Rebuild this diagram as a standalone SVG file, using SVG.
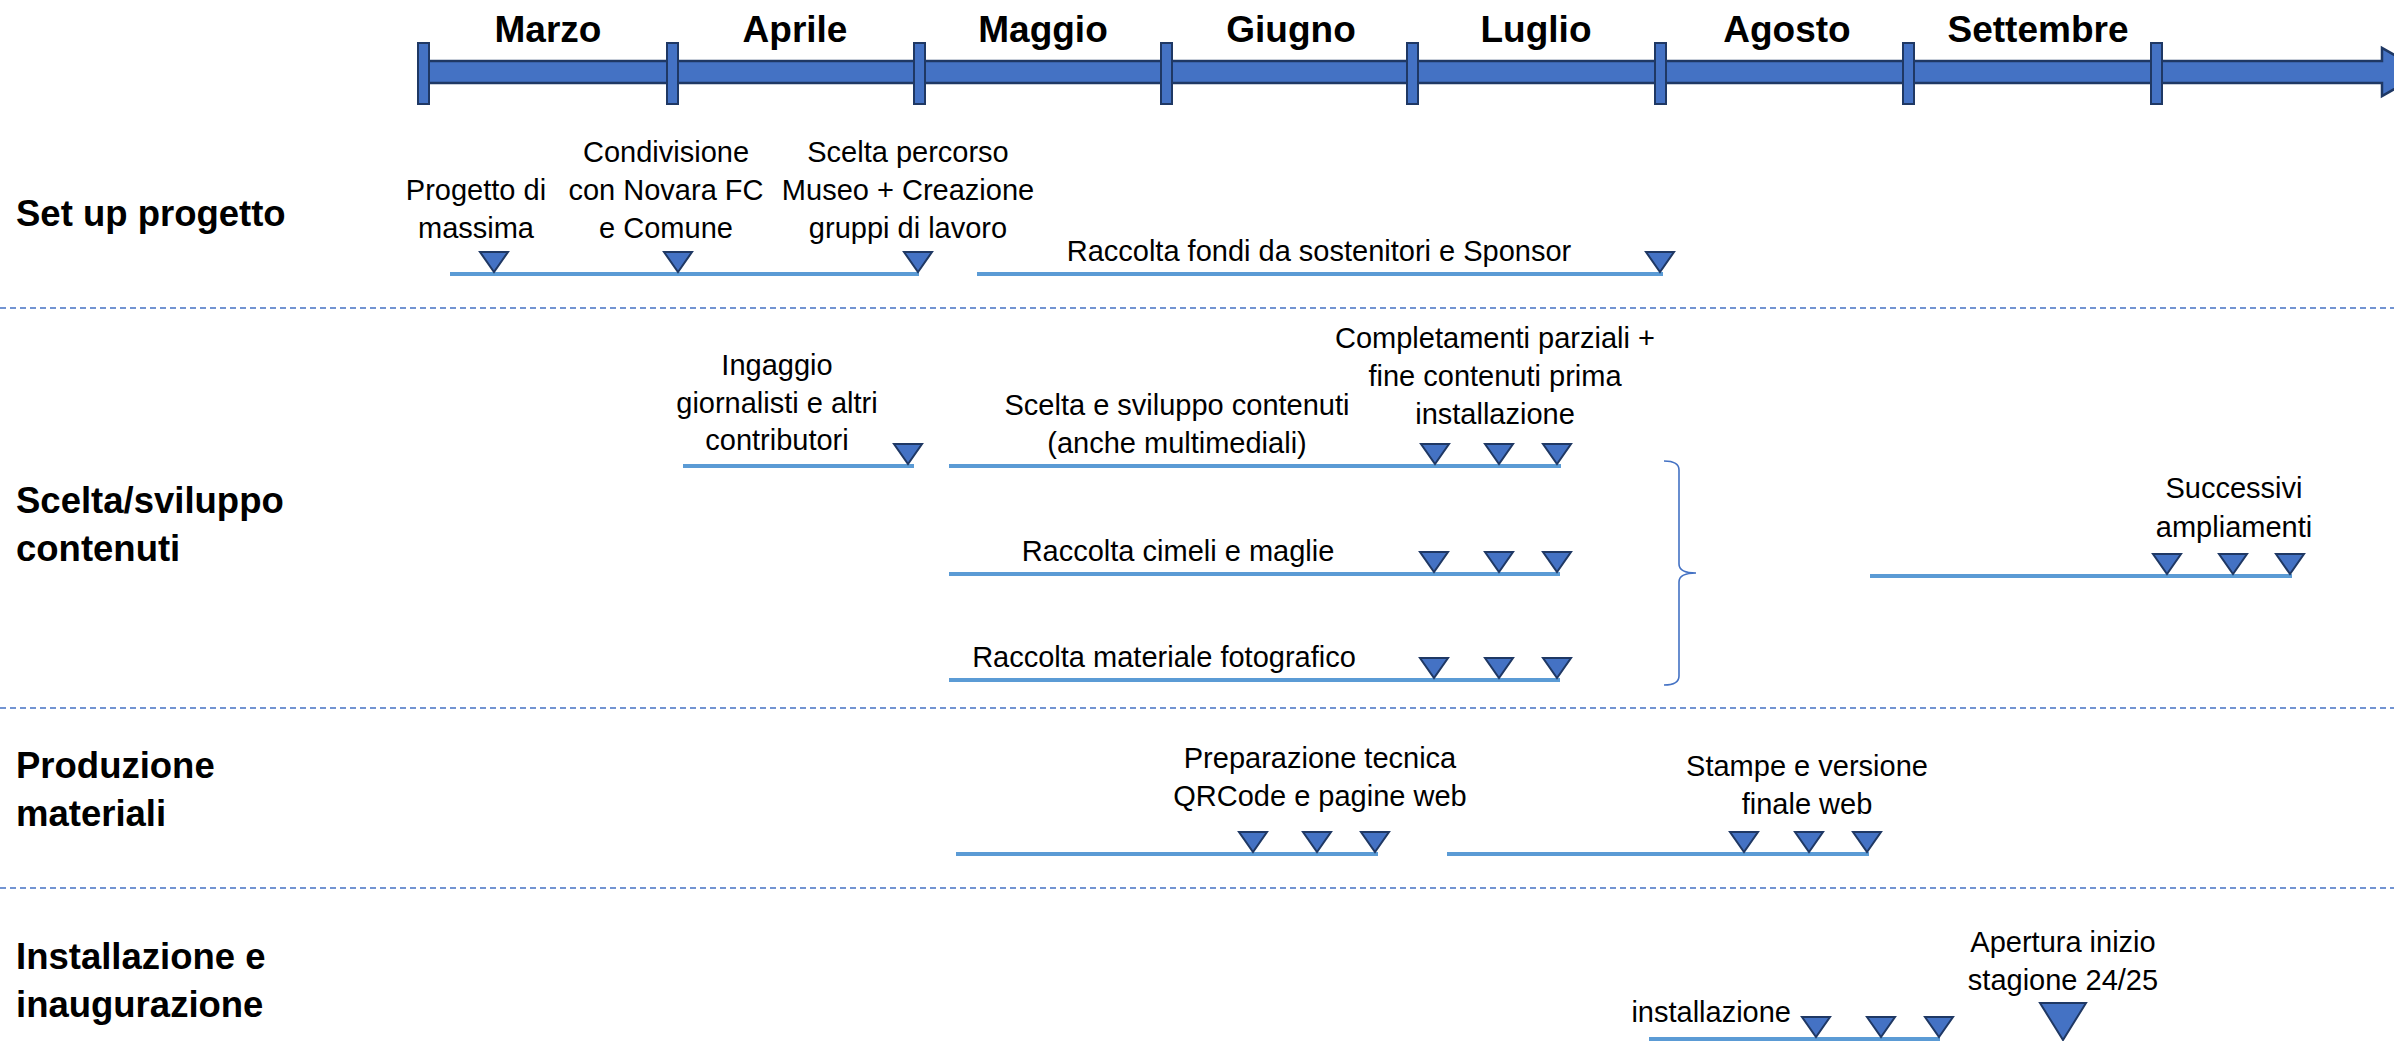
<svg xmlns="http://www.w3.org/2000/svg" xmlns:xlink="http://www.w3.org/1999/xlink" width="2394" height="1041" viewBox="0 0 2394 1041">
<style>
.month{font-family:"Liberation Sans",Arial,sans-serif;font-weight:bold;font-size:37px;fill:#000;text-anchor:middle}
.row{font-family:"Liberation Sans",Arial,sans-serif;font-weight:bold;font-size:36.5px;fill:#000}
.lbl{font-family:"Liberation Sans",Arial,sans-serif;font-size:29px;fill:#000;text-anchor:middle}
.bar{stroke:#5B9BD5;stroke-width:4;fill:none}
.sep{stroke:#4472C4;stroke-width:1.5;stroke-dasharray:6 4;fill:none}
.tick{fill:#4472C4;stroke:#1F3864;stroke-width:2}
.tri{fill:#4472C4;stroke:#1F3864;stroke-width:2;stroke-linejoin:miter}
.brace{stroke:#4472C4;stroke-width:1.6;fill:none}
</style>
<defs>
<path id="tri" class="tri" d="M-14,-20 L14,-20 L0,0 Z"/>
<path id="bigtri" class="tri" d="M-23,-37 L23,-37 L0,0 Z"/>
</defs>
<rect width="2394" height="1041" fill="#fff"/>

<g id="timeline">
<path d="M423,61 L2382,61 L2382,48 L2425,72 L2382,96 L2382,83 L423,83 Z" fill="#4472C4" stroke="#1F3864" stroke-width="2.5"/>
<rect class="tick" x="418" y="43" width="11" height="61"/>
<rect class="tick" x="667" y="43" width="11" height="61"/>
<rect class="tick" x="914" y="43" width="11" height="61"/>
<rect class="tick" x="1161" y="43" width="11" height="61"/>
<rect class="tick" x="1407" y="43" width="11" height="61"/>
<rect class="tick" x="1655" y="43" width="11" height="61"/>
<rect class="tick" x="1903" y="43" width="11" height="61"/>
<rect class="tick" x="2151" y="43" width="11" height="61"/>
<text class="month" x="548" y="42">Marzo</text>
<text class="month" x="795" y="42">Aprile</text>
<text class="month" x="1043" y="42">Maggio</text>
<text class="month" x="1291" y="42">Giugno</text>
<text class="month" x="1536" y="42">Luglio</text>
<text class="month" x="1787" y="42">Agosto</text>
<text class="month" x="2038" y="42">Settembre</text>
</g>

<g id="separators">
<line class="sep" x1="0" y1="308" x2="2394" y2="308"/>
<line class="sep" x1="0" y1="708" x2="2394" y2="708"/>
<line class="sep" x1="0" y1="888" x2="2394" y2="888"/>
</g>

<g id="row-labels">
<text id="row-setup" class="row" x="16" y="226">Set up progetto</text>
<text id="row-contenuti" class="row" x="16" y="513"><tspan x="16">Scelta/sviluppo</tspan><tspan x="16" dy="48">contenuti</tspan></text>
<text id="row-produzione" class="row" x="16" y="778"><tspan x="16">Produzione</tspan><tspan x="16" dy="48">materiali</tspan></text>
<text id="row-installazione" class="row" x="16" y="969"><tspan x="16">Installazione e</tspan><tspan x="16" dy="48">inaugurazione</tspan></text>
</g>

<g id="connectors">
<line class="bar" x1="450" y1="274" x2="919" y2="274"/>
<line class="bar" x1="977" y1="274" x2="1663" y2="274"/>
<line class="bar" x1="683" y1="466" x2="914" y2="466"/>
<line class="bar" x1="949" y1="466" x2="1561" y2="466"/>
<line class="bar" x1="949" y1="574" x2="1560" y2="574"/>
<line class="bar" x1="949" y1="680" x2="1560" y2="680"/>
<line class="bar" x1="1870" y1="576" x2="2292" y2="576"/>
<line class="bar" x1="956" y1="854" x2="1378" y2="854"/>
<line class="bar" x1="1447" y1="854" x2="1869" y2="854"/>
<line class="bar" x1="1649" y1="1039" x2="1940" y2="1039"/>
<path class="brace" d="M1664,461 Q1679,461 1679,470 L1679,564 Q1679,573 1696,573 Q1679,573 1679,582 L1679,676 Q1679,685 1664,685"/>
</g>

<g id="node-progetto">
<text class="lbl" x="476" y="200"><tspan x="476">Progetto di</tspan><tspan x="476" dy="38">massima</tspan></text>
<use xlink:href="#tri" x="494" y="272"/>
</g>
<g id="node-condivisione">
<text class="lbl" x="666" y="162"><tspan x="666">Condivisione</tspan><tspan x="666" dy="38">con Novara FC</tspan><tspan x="666" dy="38">e Comune</tspan></text>
<use xlink:href="#tri" x="678" y="272"/>
</g>
<g id="node-percorso">
<text class="lbl" x="908" y="162"><tspan x="908">Scelta percorso</tspan><tspan x="908" dy="38">Museo + Creazione</tspan><tspan x="908" dy="38">gruppi di lavoro</tspan></text>
<use xlink:href="#tri" x="918" y="272"/>
</g>
<g id="node-fondi">
<text class="lbl" x="1319" y="261">Raccolta fondi da sostenitori e Sponsor</text>
<use xlink:href="#tri" x="1660" y="272"/>
</g>

<g id="node-ingaggio">
<text class="lbl" x="777" y="375"><tspan x="777">Ingaggio</tspan><tspan x="777" dy="38">giornalisti e altri</tspan><tspan x="777" dy="37">contributori</tspan></text>
<use xlink:href="#tri" x="908" y="464"/>
</g>
<g id="node-sviluppo">
<text class="lbl" x="1177" y="415"><tspan x="1177">Scelta e sviluppo contenuti</tspan><tspan x="1177" dy="38">(anche multimediali)</tspan></text>
</g>
<g id="node-completamenti">
<text class="lbl" x="1495" y="348"><tspan x="1495">Completamenti parziali +</tspan><tspan x="1495" dy="38">fine contenuti prima</tspan><tspan x="1495" dy="38">installazione</tspan></text>
<use xlink:href="#tri" x="1435" y="464"/>
<use xlink:href="#tri" x="1499" y="464"/>
<use xlink:href="#tri" x="1557" y="464"/>
</g>
<g id="node-cimeli">
<text class="lbl" x="1178" y="561">Raccolta cimeli e maglie</text>
<use xlink:href="#tri" x="1434" y="572"/>
<use xlink:href="#tri" x="1499" y="572"/>
<use xlink:href="#tri" x="1557" y="572"/>
</g>
<g id="node-foto">
<text class="lbl" x="1164" y="667">Raccolta materiale fotografico</text>
<use xlink:href="#tri" x="1434" y="678"/>
<use xlink:href="#tri" x="1499" y="678"/>
<use xlink:href="#tri" x="1557" y="678"/>
</g>
<g id="node-ampliamenti">
<text class="lbl" x="2234" y="498"><tspan x="2234">Successivi</tspan><tspan x="2234" dy="39">ampliamenti</tspan></text>
<use xlink:href="#tri" x="2167" y="574"/>
<use xlink:href="#tri" x="2233" y="574"/>
<use xlink:href="#tri" x="2290" y="574"/>
</g>

<g id="node-preparazione">
<text class="lbl" x="1320" y="768"><tspan x="1320">Preparazione tecnica</tspan><tspan x="1320" dy="38">QRCode e pagine web</tspan></text>
<use xlink:href="#tri" x="1253" y="852"/>
<use xlink:href="#tri" x="1317" y="852"/>
<use xlink:href="#tri" x="1375" y="852"/>
</g>
<g id="node-stampe">
<text class="lbl" x="1807" y="776"><tspan x="1807">Stampe e versione</tspan><tspan x="1807" dy="38">finale web</tspan></text>
<use xlink:href="#tri" x="1744" y="852"/>
<use xlink:href="#tri" x="1809" y="852"/>
<use xlink:href="#tri" x="1867" y="852"/>
</g>

<g id="node-installazione">
<text class="lbl" x="1791" y="1022" style="text-anchor:end">installazione</text>
<use xlink:href="#tri" x="1816" y="1037"/>
<use xlink:href="#tri" x="1881" y="1037"/>
<use xlink:href="#tri" x="1939" y="1037"/>
</g>
<g id="node-apertura">
<text class="lbl" x="2063" y="952"><tspan x="2063">Apertura inizio</tspan><tspan x="2063" dy="38">stagione 24/25</tspan></text>
<use xlink:href="#bigtri" x="2063" y="1040"/>
</g>
</svg>
